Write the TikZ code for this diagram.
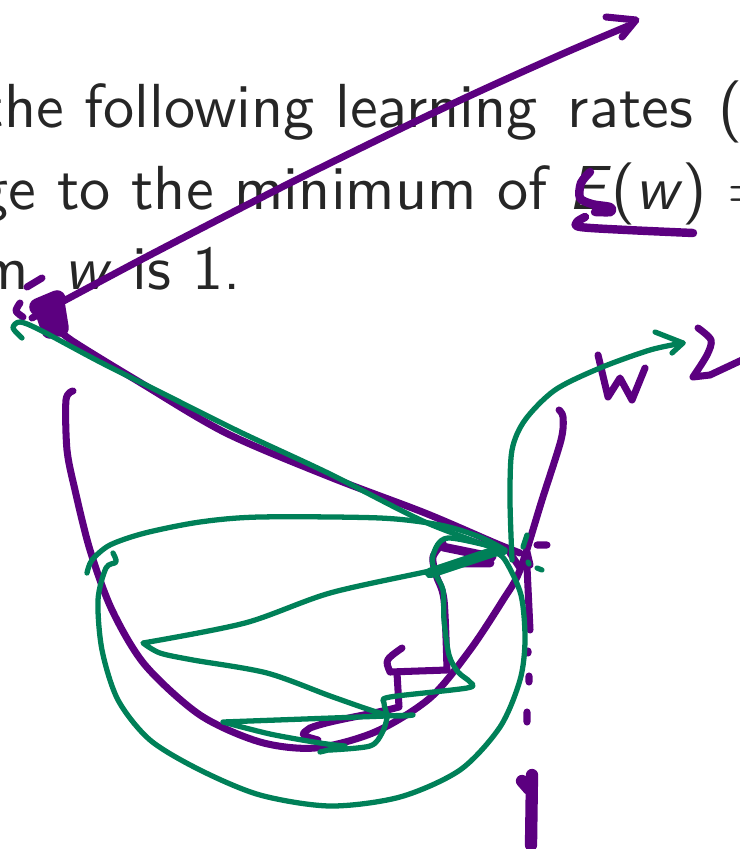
\documentclass[tikz,border=0pt]{standalone}
\definecolor{inkpurple}{RGB}{92,0,128}
\definecolor{inkgreen}{RGB}{0,128,88}
\newcommand\slidetext[1]{\scalebox{1.77}{#1}}

\begin{document}
\begin{tikzpicture}[x=0.01cm, y=-0.01cm, line cap=round, line join=round,
  slide/.style={anchor=base west, inner sep=0pt, text=black!85, font=\sffamily},
  purplepen/.style={draw=inkpurple, line width=2pt},
  greenpen/.style={draw=inkgreen, line width=1.5pt}]
  \useasboundingbox (0,0) rectangle (740,849);

  \node[slide] (rates) at (-19,128) {\slidetext{the following learning\hspace{1.5pt} rates\hspace{0.8pt} (}};
  \node[slide] (minimum) at (-23,210) {\slidetext{ge to the minimum of \textit{E}(\textit{w}) =}};
  \node[slide] (ismin) at (-21,290) {\slidetext{m\hspace{2.4pt} \textit{w} is 1.}};

  \draw[purplepen] plot[smooth] coordinates {(32,318) (150,255) (300,178) (450,105) (560,55) (628,26)};
  \draw[purplepen] (606,17) -- (636,20) -- (622,37);
  \draw[purplepen] (27,287) -- (42,278);
  \draw[purplepen] plot[smooth] coordinates {(20,303) (16,311) (23,317)};
  \draw[purplepen, line width=5pt] (38,307) -- (57,299) (44,312) -- (50,330) (56,303) -- (60,328);
  \draw[purplepen] plot[smooth] coordinates {(55,325) (71,340) (141,383) (226,433) (330,477) (425,513) (495,543) (520,553)};
  \draw[purplepen] plot[smooth] coordinates {(73,391) (66,400) (67,450) (75,490) (90,550) (112,610) (145,665) (200,715) (260,742) (315,748) (375,732) (430,698) (470,650) (503,600) (520,570) (542,500) (561,440) (563,417) (559,410)};
  \draw[purplepen] plot[smooth] coordinates {(443,543) (433,557) (436,575) (444,600) (447,670)} -- (390,672) .. controls (385,660) .. (402,648);
  \draw[purplepen] (397,673) -- (399,707) .. controls (370,715) and (330,720) .. (310,728) .. controls (300,735) .. (318,740);
  \draw[purplepen, line width=2.5pt] (443,547) -- (492,557) (463,563) -- (490,563);
  \draw[purplepen] (537,545) -- (547,545) (510,553) -- (520,568) (527,552) -- (530,565);
  \draw[purplepen] (527,567) -- (530,630) (528,651) -- (528,653) (529,676) -- (529,682) (527,712) -- (527,722);
  \draw[purplepen, line width=3.5pt] (532,775) -- (531,845) (522,781) -- (529,789);
  \draw[purplepen, line width=2.4pt] plot[smooth] coordinates {(590,172) (581,183) (580,198) (592,204) (610,207) (611,212) (595,212)};
  \draw[purplepen, line width=2.4pt] plot[smooth] coordinates {(585,217) (577,222) (580,227) (627,230) (693,233)};
  \draw[purplepen] (598,355) -- (608,397) -- (620,378) -- (632,400) -- (645,368);
  \draw[purplepen] plot[smooth] coordinates {(698,328) (711,340) (707,355) (693,377)} -- (710,375) -- (742,360);

  \draw[greenpen] plot[smooth] coordinates {(22,338) (13,328) (20,322) (40,330) (100,362) (160,392) (240,432) (330,474) (425,522) (500,550)};
  \draw[greenpen] plot[smooth] coordinates {(87,573) (92,560) (110,545) (145,533) (200,522) (260,517) (380,518) (440,525) (480,537) (505,550)};
  \draw[greenpen] plot[smooth] coordinates {(113,553) (116,562) (106,568) (98,600) (102,650) (118,700) (150,740) (200,770) (260,795) (330,806) (400,797) (460,770) (500,727) (520,680) (525,640) (521,595) (505,560) (492,550)};
  \draw[greenpen] plot[smooth] coordinates {(512,560) (510,500) (512,450) (525,420) (555,390) (600,368) (650,350) (683,343)};
  \draw[greenpen] (655,332) -- (683,343) -- (672,353);
  \draw[greenpen] plot[smooth] coordinates {(505,552) (470,560) (434,570) (330,593) (245,623) (143,643)}
    -- plot[smooth] coordinates {(143,643) (160,653) (193,660) (267,673) (333,697) (387,715) (413,715)}
    -- (223,722) -- plot[smooth] coordinates {(223,722) (270,734) (320,743) (345,746)} -- (320,752);
  \draw[greenpen] plot[smooth] coordinates {(330,750) (370,746) (382,733) (387,717) (384,703) (390,697) (467,688) (470,682) (458,672) (449,655) (444,620) (443,590) (435,573) (433,555) (448,538) (505,550)};
  \draw[greenpen, line width=3pt] (430,573) -- (490,553);
  \draw[greenpen] (527,535) -- (523,547) (528,562) -- (529,564) (537,568) -- (542,570);
\end{tikzpicture}
\end{document}
